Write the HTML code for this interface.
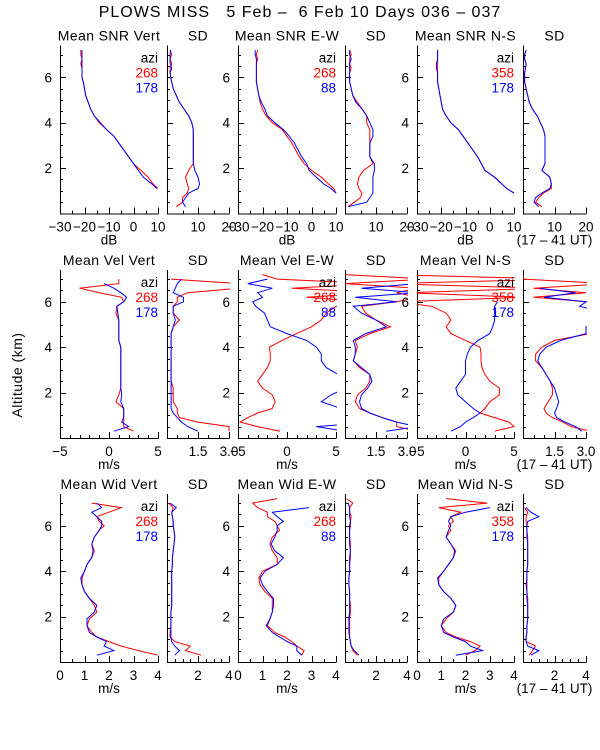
<!DOCTYPE html>
<html><head><meta charset="utf-8"><style>
html,body{margin:0;padding:0;background:#fff;}
svg{display:block;font-family:"Liberation Sans",sans-serif;}
text{font-size:13.5px;}
</style></head><body>
<svg id="c" width="600" height="750" viewBox="0 0 600 750">
<text x="300" y="17" text-anchor="middle" style="font-size:16px;letter-spacing:1px" xml:space="preserve">PLOWS MISS   5 Feb –  6 Feb 10 Days 036 – 037</text>
<text transform="translate(22,375) rotate(-90)" text-anchor="middle" style="font-size:14px;letter-spacing:0.5px">Altitude (km)</text>
</svg>
<script>
const alts=[0.3,0.5,0.7,0.9,1.1,1.3,1.6,1.9,2.2,2.5,2.8,3.1,3.4,3.7,4.0,4.3,4.6,4.9,5.2,5.5,5.8,6.0,6.2,6.4,6.6,6.8,7.0,7.2];
// Row 1: SNR (dB)
const snrVertR=[null,null,null,null,10,8,6,3,0,-2,-4,-6,-8,-11,-14,-16,-17.5,-18.5,-19.5,-20,-20.5,-21,-21,-21,-21.5,-21,-21.5,-21.5];
const snrVertB=[null,null,null,null,9.5,7.5,4,2,0,-2,-4,-6,-8,-11,-13.5,-16,-17.5,-18.5,-19.5,-20,-20.5,-21,-21,-21,-21,-21,-21,-21];
const sdSnrVertR=[3,5,5,6.5,7,6.5,6,7,8.5,8.5,8.5,8.5,8.5,8.5,8,7,5.5,4,3,2,1.5,1.2,1,1,1.5,1,1.5,1];
const sdSnrVertB=[6,5,6,7,10,10.5,10,9,8.5,8.5,8.5,8.5,8.5,8.5,8,7,5.5,4,3,2,1.5,1.2,1,1.5,1,1,1,1.2];
const snrEWR=[null,null,null,10,9,7,4,0,-3,-5,-6.5,-8,-10,-12,-16,-18.5,-20,-21,-21.5,-22,-22.5,-22.5,-22.5,-22.5,-22.5,-22,-22.5,-22];
const snrEWB=[null,null,null,10,8,5,2,-1,-2,-4,-5.5,-7,-9,-11.5,-15,-18,-19,-20.5,-21.5,-22,-22.5,-22.5,-22.5,-22.5,-22.5,-22.5,-23,-23];
const sdSnrEWR=[1,3,5,5.5,4.5,4,4.5,6,9,8,8,8,8,8,7,7,5.5,4,2.5,2,1.5,1.5,1.5,2,1.5,1.5,2,1.5];
const sdSnrEWB=[1,7,8,9,9,9,9,9.5,9.5,8,8,8,9,9,8,7,5.5,3.5,2.5,2,1.5,1.5,1.5,1.5,1.5,2,1.5,1.5];
const snrNSR=[null,null,null,10,7,5,2,-2,-3.5,-5,-7,-9,-11,-13,-16,-18,-19.5,-20,-20.5,-21,-21.5,-21.5,-21.5,-21.5,-21.5,-21.5,-21.5,-21.5];
const snrNSB=[null,null,null,10,7,5,2,-2,-3.5,-5,-7,-9,-11,-13,-16,-18,-19.5,-20,-20.5,-21,-21.5,-21.5,-21.5,-22,-22,-21.5,-21.5,-21.5];
const sdSnrNSR=[6,4,5,6.5,9,9,8.5,6,7,7,7,7,7,6.5,5.5,4.5,3,2,1.5,1,0.5,0.5,0.5,0.8,1,0.5,0.5,1];
const sdSnrNSB=[5,3.5,4,6,8.5,9,8.5,6,7,7,7,7,7,6.5,5.5,4.5,3,2,1.5,1,0.5,0.5,0.5,0.8,1,0.5,0.5,1];
// Row 2: Velocity (m/s)
const velVertR=[2.5,1.5,1.5,1.5,1.5,1.5,0.7,1,1.2,1.2,1.2,1.2,1.2,1.2,1.2,1,1,1,1,0.7,0.8,1.5,1.3,-1,-3,1,1,null];
const velVertB=[0.5,2,1.3,1.5,1.5,1.5,1.2,1.3,1.2,1.2,1.2,1.2,1.2,1.2,1.2,1,1,1,1,0.9,0.8,1.5,1.8,1.2,0.5,-0.5,null,null];
const sdVelVertR=[3,3,1.5,0.6,0.5,0.5,0.3,0.3,0.3,0.2,0.2,0.2,0.2,0.2,0.2,0.2,0.2,0.3,0.6,0.3,0.3,0.5,0.5,1,3.5,3.5,0.2,null];
const sdVelVertB=[1.5,1,0.7,0.5,0.3,0.2,0.2,0.2,0.2,0.2,0.2,0.2,0.2,0.2,0.2,0.2,0.2,0.3,0.4,0.3,0.3,0.8,0.8,0.3,0.4,0.5,0.7,null];
const velEWR=[-0.7,-3,-4.8,-4,-3,-1.5,-1.2,-1.5,-2.5,-3,-2.5,-2,-1.7,-1.7,-1.8,-0.5,1,2.5,3.5,4,5,8,2,9,0.5,9,-1,-2.5];
const velEWB=[6,3,9,7,6,5.5,3.5,4.5,6,5.5,5.2,4,3.5,3.5,3,2,0,-1.7,-2,-2.3,-3.2,-3.5,-2.5,-3,-1.5,-4,-2,null];
const sdVelEWR=[3.5,2.5,2.5,1.8,1.2,0.7,0.5,0.6,1,1.2,1.2,0.7,0.4,0.5,0.6,0.5,1.2,2.2,1.5,1,0.8,2.5,3.5,2.5,3.5,0,4,0];
const sdVelEWB=[2,3.5,2.5,1.8,1.2,0.8,0.7,0.8,1.1,1.3,1.2,0.8,0.4,0.5,0.5,0.4,1,2,1.5,0.8,0.4,2.5,0.5,3.5,0.8,3.5,null,null];
const velNSR=[3,5,4.5,3,1.5,2,2.5,3.5,3.5,2.5,2,1.7,1.6,1.6,1.5,0,-1.5,-2,-1.5,-2,-3.5,-7,6,-6,8,-8,10,-8];
const velNSB=[-1.5,-0.5,0,0.8,1.5,0.8,0,-0.8,-1,-0.5,0,0,0,0.2,0.5,1.3,2.5,2.8,3,3,3,3.3,null,null,null,null,null,null];
const sdVelNSR=[3.2,2.3,1.9,1.4,1.1,1,1.2,1.4,1.4,1.3,1.1,0.9,0.6,0.6,0.9,1.5,3.2,4,4,4,3.5,3,0.5,3,0.5,4,0,0];
const sdVelNSB=[2.8,2.5,2,1.6,1.5,1.6,1.7,1.6,1.5,1.3,1.1,0.9,0.7,0.8,1.1,1.8,3,3,4,4,2.7,3,1,2.5,0.8,null,null,null];
// Row 3: Width (m/s)
const widVertR=[4,3.2,2.5,2,1.5,1.3,1.1,1.2,1.5,1.4,1.2,1,0.9,0.9,1,1.1,1.3,1.4,1.3,1.4,1.6,1.8,1.6,1.5,2,2.5,1.3,null];
const widVertB=[1.5,2.2,1.8,1.9,1.5,1.2,1.1,1.1,1.4,1.5,1.2,1,0.9,0.85,1,1.1,1.3,1.35,1.3,1.4,1.6,1.7,1.7,1.5,1.3,1.7,1.5,null];
const sdWidVertR=[2.2,1.2,1.5,0.5,0.2,0.2,0.25,0.25,0.25,0.3,0.3,0.3,0.3,0.3,0.3,0.35,0.35,0.4,0.45,0.5,0.45,0.4,0.4,0.35,0.3,0.4,0.1,null];
const sdWidVertB=[0.5,0.8,0.5,0.3,0.25,0.25,0.25,0.25,0.25,0.3,0.3,0.3,0.3,0.3,0.3,0.35,0.35,0.4,0.45,0.5,0.45,0.4,0.4,0.35,0.3,0.6,0.2,null];
const widEWR=[2.6,2.7,2.4,2.2,1.9,1.5,1.2,1.3,1.4,1.4,1.4,1.1,0.9,0.85,1,1.6,1.6,1.4,1.3,1.4,1.7,1.6,1.5,1.2,1.2,0.8,0.6,1.6];
const widEWB=[2.6,2.4,2.4,2,1.7,1.4,1.15,1.3,1.4,1.45,1.45,1.2,1,0.9,1.1,1.6,1.85,1.5,1.35,1.5,1.6,1.6,1.85,1.6,1.4,2.9,null,null];
const sdWidEWR=[0.8,0.5,0.4,0.35,0.3,0.3,0.3,0.3,0.35,0.35,0.3,0.3,0.25,0.25,0.3,0.3,0.35,0.35,0.35,0.3,0.3,0.35,0.35,0.4,0.3,0.3,0.5,0.1];
const sdWidEWB=[0.9,0.6,0.4,0.35,0.3,0.25,0.25,0.25,0.3,0.3,0.3,0.3,0.25,0.25,0.3,0.3,0.3,0.35,0.3,0.3,0.3,0.3,0.35,0.3,0.3,0.3,0.2,null];
const widNSR=[2,2.4,2.6,2.2,1.6,1.2,1,1.2,1.5,1.6,1.4,1.1,0.9,0.9,1.1,1.3,1.5,1.6,1.4,1.2,1.4,1.3,1.5,1.4,1.8,0.9,2.9,1.2];
const widNSB=[1.6,2.7,2.2,2,1.5,1.1,1,1.1,1.5,1.6,1.4,1.1,0.9,0.85,1.1,1.3,1.5,1.55,1.4,1.2,1.3,1.4,1.3,1.4,2,3,null,null];
const sdWidNSR=[0.4,0.6,0.8,0.2,0.2,0.25,0.25,0.3,0.3,0.3,0.3,0.25,0.25,0.25,0.25,0.3,0.3,0.3,0.3,0.3,0.25,0.25,0.2,0.2,0.3,0.1,null,null];
const sdWidNSB=[0.5,1,0.3,0.2,0.2,0.25,0.25,0.3,0.3,0.3,0.25,0.25,0.2,0.25,0.25,0.3,0.3,0.3,0.3,0.25,0.25,0.25,0.3,1,0.5,0.2,null,null];
// tick labels
const snrTicks=[-30,-20,-10,0,10];
const snrSdTicks=[10,20];
const velTicks=[-5,0,5];
const velSdTicks=[1.5,3.0];
const widTicks=[0,1,2,3,4];
const widSdTicks=[2,4];
const altTicks=[2,4,6];

const NS="http://www.w3.org/2000/svg";
const svg=document.getElementById('c');
const rowBottoms=[213.5,438,662];
const kmPx=22.7;
const colX=[[60,158],[167,229],[238,336],[345,407],[417,514],[523,586]];
let clipId=0;
function mk(tag,attrs,parent){const e=document.createElementNS(NS,tag);for(const k in attrs)e.setAttribute(k,attrs[k]);(parent||svg).appendChild(e);return e;}
function txt(s,x,y,anchor,color,name){const t=mk('text',{x:x,y:y,'text-anchor':anchor||'middle'});t.style.fill=color||'#000';t.textContent=s;


return t;}

function panel(row,col,title,xmin,xmax,ticks,minorStep,tickFmt,red,blue,opts){
  const [x0,x1]=colX[col];const yb=rowBottoms[row];const yt=yb-7.4*kmPx;
  const sx=v=>x0+(v-xmin)/(xmax-xmin)*(x1-x0);
  const sy=a=>yb-a*kmPx;
  const g=mk('g',{});
  
  
  const t=txt(title,(x0+x1)/2,yt-5,'middle',null,'panel-title');t.style.fontSize='14px';t.style.letterSpacing='0.4px';g.appendChild(t);
  const ax=mk('path',{d:`M${x0+0.5},${yt} V${yb+0.5} H${x1+0.5}`,stroke:'#000','stroke-width':1,fill:'none'},g);
  
  
  for(let a=0.5;a<=7.4;a+=0.5){const y=Math.round(sy(a))+0.5;const L=(Math.abs(a%2)<0.01)?6:3;
    mk('line',{x1:x0,x2:x0+L,y1:y,y2:y,stroke:'#000'},g);}
  if(opts.yLabels){altTicks.forEach(a=>{const tl=txt(String(a),x0-8,sy(a)+5,'end',null,'y-tick-label');g.appendChild(tl);});}
  for(let v=xmin;v<=xmax+1e-9;v+=minorStep){const x=Math.round(sx(v))+0.5;mk('line',{x1:x,x2:x,y1:yb,y2:yb-3,stroke:'#000'},g);}
  ticks.forEach(v=>{const x=Math.round(sx(v))+0.5;mk('line',{x1:x,x2:x,y1:yb,y2:yb-6,stroke:'#000'},g);
    const tl=txt(tickFmt(v),sx(v),yb+18,'middle',null,'x-tick-label');g.appendChild(tl);});
  if(opts.unit){const u=txt(opts.unit,(x0+x1)/2,yb+31,'middle',null,'x-axis-unit');g.appendChild(u);}
  const cid='cl'+(clipId++);const cp=mk('clipPath',{id:cid},g);mk('rect',{x:x0,y:yt-2,width:x1-x0+1,height:yb-yt+3},cp);
  [[red,'#ff0000','red-profile'],[blue,'#0000ff','blue-profile']].forEach(([arr,col,nm])=>{
    let d='';let pen=false;
    arr.forEach((v,i)=>{if(v===null||v===undefined){pen=false;return;}
      d+=(pen?'L':'M')+sx(v).toFixed(1)+','+sy(alts[i]).toFixed(1);pen=true;});
    const p=mk('path',{d:d,stroke:col,'stroke-width':1,fill:'none','clip-path':'url(#'+cid+')'},g);
    
    
  });
  if(opts.legend){const lx=x1;const ly=yt+17;
    const g2=mk('g',{},g);
    
    
    g2.appendChild(txt('azi',lx,ly,'end',null,'legend-title'));
    g2.appendChild(txt(opts.legend[0],lx,ly+15,'end','#ff0000','legend-entry-red'));
    g2.appendChild(txt(opts.legend[1],lx,ly+30,'end','#0000ff','legend-entry-blue'));}
  if(opts.ut){g.appendChild(txt('(17 – 41 UT)',(x0+x1)/2,yb+31,'middle',null,'time-range-label'));}
}
const f0=v=>String(v).replace('-','−');
const f1=v=>v.toFixed(1);
panel(0,0,'Mean SNR Vert',-30,10,snrTicks,5,f0,snrVertR,snrVertB,{yLabels:true,unit:'dB',legend:['268','178']});
panel(0,1,'SD',0,20,snrSdTicks,5,f0,sdSnrVertR,sdSnrVertB,{});
panel(0,2,'Mean SNR E-W',-30,10,snrTicks,5,f0,snrEWR,snrEWB,{yLabels:true,unit:'dB',legend:['268','88']});
panel(0,3,'SD',0,20,snrSdTicks,5,f0,sdSnrEWR,sdSnrEWB,{});
panel(0,4,'Mean SNR N-S',-30,10,snrTicks,5,f0,snrNSR,snrNSB,{yLabels:true,unit:'dB',legend:['358','178']});
panel(0,5,'SD',0,20,snrSdTicks,5,f0,sdSnrNSR,sdSnrNSB,{ut:true});
panel(1,0,'Mean Vel Vert',-5,5,velTicks,1,f0,velVertR,velVertB,{yLabels:true,unit:'m/s',legend:['268','178']});
panel(1,1,'SD',0,3,velSdTicks,0.5,f1,sdVelVertR,sdVelVertB,{});
panel(1,2,'Mean Vel E-W',-5,5,velTicks,1,f0,velEWR,velEWB,{yLabels:true,unit:'m/s',legend:['268','88']});
panel(1,3,'SD',0,3,velSdTicks,0.5,f1,sdVelEWR,sdVelEWB,{});
panel(1,4,'Mean Vel N-S',-5,5,velTicks,1,f0,velNSR,velNSB,{yLabels:true,unit:'m/s',legend:['358','178']});
panel(1,5,'SD',0,3,velSdTicks,0.5,f1,sdVelNSR,sdVelNSB,{ut:true});
panel(2,0,'Mean Wid Vert',0,4,widTicks,0.5,f0,widVertR,widVertB,{yLabels:true,unit:'m/s',legend:['268','178']});
panel(2,1,'SD',0,4,widSdTicks,0.5,f0,sdWidVertR,sdWidVertB,{});
panel(2,2,'Mean Wid E-W',0,4,widTicks,0.5,f0,widEWR,widEWB,{yLabels:true,unit:'m/s',legend:['268','88']});
panel(2,3,'SD',0,4,widSdTicks,0.5,f0,sdWidEWR,sdWidEWB,{});
panel(2,4,'Mean Wid N-S',0,4,widTicks,0.5,f0,widNSR,widNSB,{yLabels:true,unit:'m/s',legend:['358','178']});
panel(2,5,'SD',0,4,widSdTicks,0.5,f0,sdWidNSR,sdWidNSB,{ut:true});
</script>
</body></html>
